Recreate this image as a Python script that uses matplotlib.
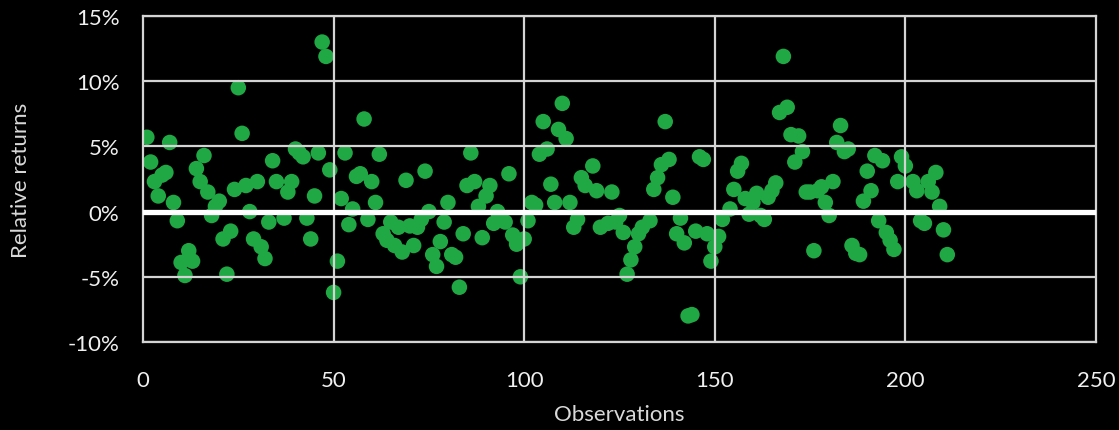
import numpy as np
import matplotlib.pyplot as plt
from matplotlib.ticker import FuncFormatter

obs = [1, 2, 3, 4, 5, 6, 7, 8, 9, 10, 11, 12, 13, 14, 15, 16, 17, 18, 19, 20,
       21, 22, 23, 24, 25, 26, 27, 28, 29, 30, 31, 32, 33, 34, 35, 37, 38, 39, 40,
       41, 42, 43, 44, 45, 46, 47, 48, 49, 50, 51, 52, 53, 54, 55, 56, 57, 58, 59, 60,
       61, 62, 63, 64, 65, 66, 67, 68, 69, 70, 71, 72, 73, 74, 75, 76, 77, 78, 79, 80,
       81, 82, 83, 84, 85, 86, 87, 88, 89, 90, 91, 92, 93, 95, 96, 97, 98, 99, 100,
       101, 102, 103, 104, 105, 106, 107, 108, 109, 110, 111, 112, 113, 114, 115, 116,
       118, 119, 120, 122, 123, 124, 125, 126, 127, 128, 129, 130, 131, 133, 134, 135,
       136, 137, 138, 139, 140, 141, 142, 143, 144, 145, 146, 147, 148, 149, 150,
       151, 152, 154, 155, 156, 157, 158, 159, 160, 161, 162, 163, 164, 165, 166, 167,
       168, 169, 170, 171, 172, 173, 174, 175, 176, 177, 178, 179, 180, 181, 182, 183,
       184, 185, 186, 187, 188, 189, 190, 191, 192, 193, 194, 195, 196, 197, 198, 199,
       200, 202, 203, 204, 205, 206, 207, 208, 209, 210, 211]
rel_ret = [5.7, 3.8, 2.3, 1.2, 2.8, 3.0, 5.3, 0.7, -0.7, -3.9, -4.9, -3.0, -3.8, 3.3, 2.3, 4.3, 1.5, -0.3, 0.4, 0.8,
           -2.1, -4.8, -1.5, 1.7, 9.5, 6.0, 2.0, 0.0, -2.1, 2.3, -2.7, -3.6, -0.8, 3.9, 2.3, -0.5, 1.5, 2.3, 4.8,
           4.5, 4.2, -0.5, -2.1, 1.2, 4.5, 13.0, 11.9, 3.2, -6.2, -3.8, 1.0, 4.5, -1.0, 0.2, 2.7, 2.9, 7.1, -0.6, 2.3,
           0.7, 4.4, -1.7, -2.2, -0.8, -2.6, -1.2, -3.1, 2.4, -1.1, -2.6, -1.2, -0.6, 3.1, 0.0, -3.3, -4.2, -2.3, -0.8, 0.7,
           -3.3, -3.5, -5.8, -1.7, 2.0, 4.5, 2.3, 0.4, -2.0, 1.2, 2.0, -0.9, 0.0, -0.8, 2.9, -1.8, -2.5, -5.0, -2.1,
           -0.7, 0.7, 0.5, 4.4, 6.9, 4.8, 2.1, 0.7, 6.3, 8.3, 5.6, 0.7, -1.2, -0.6, 2.6, 2.0,
           3.5, 1.6, -1.2, -0.9, 1.5, -0.8, -0.3, -1.6, -4.8, -3.7, -2.7, -1.7, -1.2, -0.7, 1.7, 2.6,
           3.6, 6.9, 4.0, 1.1, -1.7, -0.5, -2.4, -8.0, -7.9, -1.5, 4.2, 4.0, -1.7, -3.8, -2.7,
           -1.9, -0.6, 0.2, 1.7, 3.1, 3.7, 1.0, -0.2, 0.7, 1.4, -0.3, -0.6, 1.1, 1.6, 2.2, 7.6,
           11.9, 8.0, 5.9, 3.8, 5.8, 4.6, 1.5, 1.5, -3.0, 1.6, 1.9, 0.7, -0.3, 2.3, 5.3, 6.6,
           4.6, 4.8, -2.6, -3.2, -3.3, 0.8, 3.1, 1.6, 4.3, -0.7, 3.9, -1.6, -2.2, -2.9, 2.3, 4.2,
           3.5, 2.3, 1.6, -0.7, -0.9, 2.3, 1.5, 3.0, 0.4, -1.4, -3.3]

x_ticks = [0, 50, 100, 150, 200, 250]
y_ticks = [-10, -5, 0, 5, 10, 15]

plt.rcParams['font.family'] = ['Lato', 'DejaVu Sans']

fig = plt.figure(figsize=(11.19, 4.31), dpi=100, facecolor='black')
ax = fig.add_axes([0.1278, 0.2042, 0.8516, 0.7564])
ax.set_facecolor('black')

ax.scatter(obs, rel_ret, s=125, color='#20a845', edgecolors='none', zorder=2)

grid_col = '#d4d4d4'
for xv in x_ticks[1:-1]:
    ax.axvline(xv, color=grid_col, lw=1.6, zorder=3)
for yv in y_ticks:
    if yv != 0:
        ax.axhline(yv, color=grid_col, lw=1.6, zorder=3)
ax.axhline(0, color='white', lw=3.8, zorder=4)

ax.set_xlim(0, 250)
ax.set_ylim(-10, 15)
ax.set_xticks(x_ticks)
ax.set_yticks(y_ticks)
ax.yaxis.set_major_formatter(FuncFormatter(lambda v, p: '%d%%' % v))

for sp in ax.spines.values():
    sp.set_color(grid_col)
    sp.set_linewidth(1.6)

ax.tick_params(colors='#f0f0f0', labelsize=16, length=0)
ax.tick_params(axis='y', pad=17)
ax.tick_params(axis='x', pad=20)
ax.set_xlabel('Observations', color='#d9d9d9', fontsize=16)
ax.set_ylabel('Relative returns', color='#d9d9d9', fontsize=16)
ax.xaxis.set_label_coords(0.5, -0.19)
ax.yaxis.set_label_coords(-0.118, 0.5)

fig.savefig('out.png', dpi=100, facecolor='black')
